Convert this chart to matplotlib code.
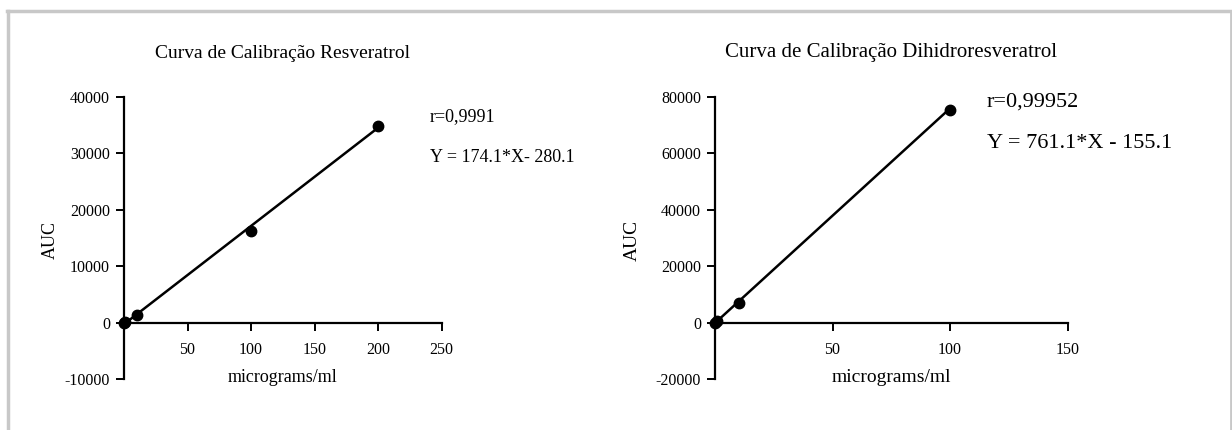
import numpy as np
import matplotlib
matplotlib.use("Agg")
import matplotlib.pyplot as plt
from matplotlib.lines import Line2D

plt.rcParams['font.family'] = ['Liberation Serif', 'DejaVu Serif']

# ---- data ----
res_x = [0, 1, 10, 100, 200]
res_y = [0, 150, 1300, 16200, 34800]
res_slope, res_intercept = 174.1, -280.1
res_r = "r=0,9991"
res_eq = "Y = 174.1*X- 280.1"

dih_x = [0, 1, 10, 100]
dih_y = [0, 600, 7000, 75400]
dih_slope, dih_intercept = 761.1, -155.1
dih_r = "r=0,99952"
dih_eq = "Y = 761.1*X - 155.1"

res_xticks = [50, 100, 150, 200, 250]
res_yticks = [-10000, 0, 10000, 20000, 30000, 40000]
dih_xticks = [50, 100, 150]
dih_yticks = [-20000, 0, 20000, 40000, 60000, 80000]

W, H = 1232, 430
fig = plt.figure(figsize=(W / 100, H / 100), dpi=100)
fig.patch.set_facecolor('white')

# gray frame
gray = '#c8c8c8'
fig.add_artist(Line2D([7 / W, 1231 / W], [1 - 10.5 / H, 1 - 10.5 / H], color=gray, lw=2.5, transform=fig.transFigure))
fig.add_artist(Line2D([7.5 / W, 7.5 / W], [0, 1 - 10.5 / H], color=gray, lw=2.5, transform=fig.transFigure))
fig.add_artist(Line2D([1230.5 / W, 1230.5 / W], [0, 1 - 10.5 / H], color=gray, lw=2, transform=fig.transFigure))


def make_panel(rect, xs, ys, slope, intercept, xlim, ylim, xticks, yticks,
               title, rtxt, eqtxt, rpos, eqpos, ylabel_x, fs_title, fs_ann, fs_lab):
    ax = fig.add_axes(rect)
    ax.plot(xs, ys, 'o', color='black', ms=7.5, zorder=3, clip_on=False)
    lx = np.array([0, max(xs)])
    ax.plot(lx, slope * lx + intercept, color='black', lw=1.8, zorder=2)
    ax.set_xlim(*xlim)
    ax.set_ylim(*ylim)
    for s in ['top', 'right']:
        ax.spines[s].set_visible(False)
    ax.spines['bottom'].set_position(('data', 0))
    ax.spines['left'].set_linewidth(1.6)
    ax.spines['bottom'].set_linewidth(1.6)
    ax.set_xticks(xticks)
    ax.set_yticks(yticks)
    ax.set_xticklabels([str(t) for t in xticks])
    ax.set_yticklabels([str(t) for t in yticks])
    ax.tick_params(direction='out', length=6, width=1.4, labelsize=11.5, pad=4)
    ax.tick_params(axis='x', pad=8)
    ax.patch.set_alpha(0)
    x0 = rect[0] * W
    x1 = (rect[0] + rect[2]) * W
    xc = (x0 + x1) / 2
    fig.text(xc / W, 1 - 53 / H, title, ha='center', va='center', fontsize=fs_title)
    fig.text(ylabel_x / W, 1 - 240 / H, 'AUC', ha='center', va='center', rotation=90, fontsize=fs_lab)
    fig.text(xc / W, 1 - 378 / H, 'micrograms/ml', ha='center', va='center', fontsize=fs_lab)
    fig.text(rpos[0] / W, 1 - rpos[1] / H, rtxt, ha='left', va='center', fontsize=fs_ann)
    fig.text(eqpos[0] / W, 1 - eqpos[1] / H, eqtxt, ha='left', va='center', fontsize=fs_ann)
    return ax


make_panel([124 / W, 1 - 379 / H, 317.5 / W, 282 / H], res_x, res_y, res_slope, res_intercept,
           (0, 250), (-10000, 40000), res_xticks, res_yticks,
           'Curva de Calibração Resveratrol', res_r, res_eq,
           (430, 117), (430, 157), 50, 14, 13, 13)

make_panel([715 / W, 1 - 379 / H, 352.5 / W, 282 / H], dih_x, dih_y, dih_slope, dih_intercept,
           (0, 150), (-20000, 80000), dih_xticks, dih_yticks,
           'Curva de Calibração Dihidroresveratrol', dih_r, dih_eq,
           (987, 102), (987, 143), 632, 15, 16, 14)

fig.savefig('out.png', dpi=100, facecolor='white')
